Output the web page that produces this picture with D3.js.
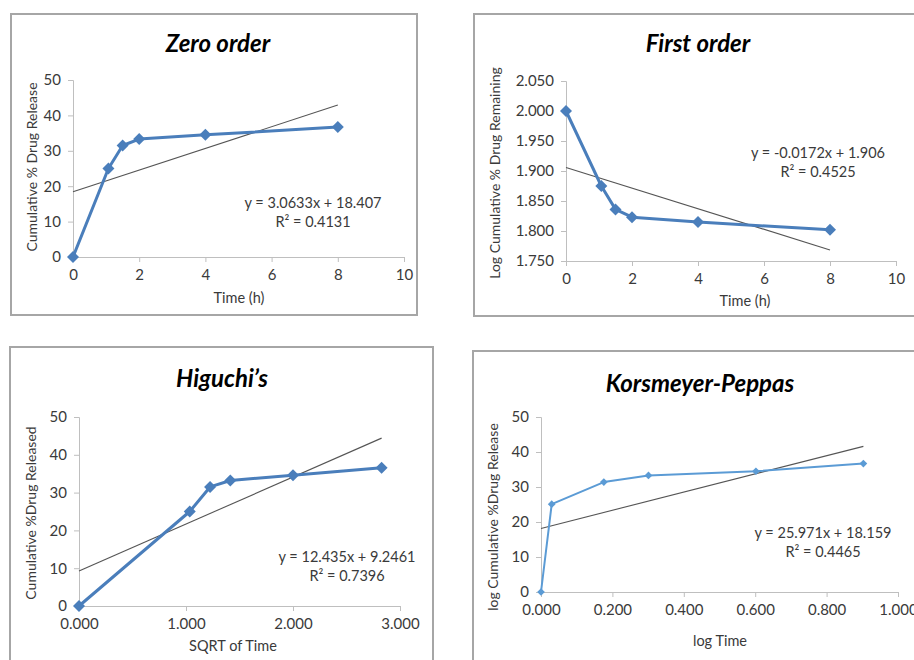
<!DOCTYPE html>
<html>
<head>
<meta charset="utf-8">
<script src="https://cdn.jsdelivr.net/npm/d3@7/dist/d3.min.js"></script>
<style>
  body { margin: 0; background: #fff; }
  svg { display: block; font-family: Lato, "Open Sans", sans-serif; }
</style>
</head>
<body>
<div id="chart"></div>
<script>
// Zero order: time (h) vs cumulative % drug release
const zeroTime = [0, 1.07, 1.5, 2, 4, 8]
const zeroRelease = [0, 25.0, 31.5, 33.3, 34.5, 36.7]

// First order: time (h) vs log cumulative % drug remaining
const firstTime = [0, 1.07, 1.5, 2, 4, 8]
const firstLogRemaining = [2.000, 1.875, 1.836, 1.823, 1.815, 1.802]

// Higuchi: sqrt of time vs cumulative % drug released
const higuchiSqrtTime = [0, 1.035, 1.225, 1.414, 2.0, 2.828]
const higuchiRelease = [0, 25.0, 31.5, 33.2, 34.6, 36.6]

// Korsmeyer-Peppas: log time vs cumulative % drug release
const kpLogTime = [0, 0.030, 0.176, 0.301, 0.602, 0.903]
const kpRelease = [0, 25.1, 31.4, 33.3, 34.5, 36.7]

// linear trendlines [slope, intercept, R²]
const zeroFit = [3.0633, 18.407, 0.4131]
const firstFit = [-0.0172, 1.906, 0.4525]
const higuchiFit = [12.435, 9.2461, 0.7396]
const kpFit = [25.971, 18.159, 0.4465]

// tick labels
const timeTicks = [0, 2, 4, 6, 8, 10]
const releaseTicks = [0, 10, 20, 30, 40, 50]
const logRemainingTicks = [1.75, 1.80, 1.85, 1.90, 1.95, 2.00, 2.05]
const sqrtTicks = [0, 1, 2, 3]
const logTimeTicks = [0, 0.2, 0.4, 0.6, 0.8, 1.0]

const W = 914, H = 660
const svg = d3.select('#chart').append('svg').attr('width', W).attr('height', H)
const TXT = '#3a3a3a'

function fmtEq(m, b) {
  const sign = b < 0 ? '- ' : '+ '
  return `y = ${m}x ${sign}${Math.abs(b)}`
}

function panel(cfg) {
  const { frame, xr, yr, xDomain, yDomain, xTicks, yTicks, xFmt, yFmt, xs, ys, fit } = cfg
  svg.append('rect')
    .attr('x', frame[0]).attr('y', frame[1]).attr('width', frame[2]).attr('height', frame[3])
    .attr('fill', '#fff').attr('stroke', '#a6a6a6').attr('stroke-width', 2)

  const x = d3.scaleLinear().domain(xDomain).range(xr)
  const y = d3.scaleLinear().domain(yDomain).range(yr)

  const gx = svg.append('g').attr('transform', `translate(0,${yr[0]})`)
    .call(d3.axisBottom(x).tickValues(xTicks).tickFormat(xFmt).tickSize(5).tickSizeOuter(5).tickPadding(7))
  const gy = svg.append('g').attr('transform', `translate(${xr[0]},0)`)
    .call(d3.axisLeft(y).tickValues(yTicks).tickFormat(yFmt).tickSize(5).tickSizeOuter(5).tickPadding(7))
  ;[gx, gy].forEach(g => {
    g.selectAll('path, line').attr('stroke', '#bfbfbf')
    g.selectAll('text').style('font-size', '15px').attr('fill', TXT).style('font-family', 'Lato, sans-serif')
  })

  // title
  svg.append('text').attr('x', cfg.titleX).attr('y', cfg.titleY).attr('text-anchor', 'middle')
    .style('font-size', '24px').style('font-weight', '700').style('font-style', 'italic')
    .attr('fill', '#000').text(cfg.title)

  // axis titles
  svg.append('text').attr('x', cfg.xLabelX).attr('y', cfg.xLabelY).attr('text-anchor', 'middle')
    .style('font-size', '14.5px').attr('fill', TXT).text(cfg.xLabel)
  svg.append('text')
    .attr('transform', `translate(${cfg.yLabelX},${cfg.yLabelY}) rotate(-90)`)
    .attr('text-anchor', 'middle').attr('dy', '0.35em')
    .style('font-size', '14px').attr('fill', TXT).text(cfg.yLabel)

  // trendline
  const [m, b, r2] = fit
  const x0 = d3.min(xs), x1 = d3.max(xs)
  svg.append('line')
    .attr('x1', x(x0)).attr('y1', y(m * x0 + b)).attr('x2', x(x1)).attr('y2', y(m * x1 + b))
    .attr('stroke', '#555').attr('stroke-width', 1.1)

  // data line + markers
  const pts = xs.map((v, i) => [v, ys[i]])
  svg.append('path').datum(pts)
    .attr('d', d3.line().x(d => x(d[0])).y(d => y(d[1])))
    .attr('fill', 'none').attr('stroke', cfg.color).attr('stroke-width', cfg.lineW)
    .attr('stroke-linejoin', 'round')
  svg.selectAll(null).data(pts).join('path')
    .attr('d', d3.symbol(d3.symbolSquare, cfg.markerSize))
    .attr('transform', d => `translate(${x(d[0])},${y(d[1])}) rotate(45)`)
    .attr('fill', cfg.color)

  // equation
  const eq = svg.append('text').attr('text-anchor', 'middle')
    .style('font-size', '14.5px').attr('fill', TXT)
  eq.append('tspan').attr('x', cfg.eqX).attr('y', cfg.eqY).text(fmtEq(m, b))
  eq.append('tspan').attr('x', cfg.eqX).attr('y', cfg.eqY + 19).text(`R² = ${r2}`)
}

const f0 = d3.format('d'), f3 = d3.format('.3f')

panel({
  frame: [11, 14, 406, 301], xr: [73, 404], yr: [257, 80],
  xDomain: [0, 10], yDomain: [0, 50], xTicks: timeTicks, yTicks: releaseTicks, xFmt: f0, yFmt: f0,
  xs: zeroTime, ys: zeroRelease, fit: zeroFit,
  title: 'Zero order', titleX: 218, titleY: 52,
  xLabel: 'Time (h)', xLabelX: 239, xLabelY: 303,
  yLabel: 'Cumulative % Drug Release', yLabelX: 32, yLabelY: 167,
  eqX: 313, eqY: 208, color: '#4a7ebb', lineW: 3, markerSize: 72
})

panel({
  frame: [474, 14, 460, 302], xr: [566, 896], yr: [261, 81],
  xDomain: [0, 10], yDomain: [1.75, 2.05], xTicks: timeTicks, yTicks: logRemainingTicks, xFmt: f0, yFmt: f3,
  xs: firstTime, ys: firstLogRemaining, fit: firstFit,
  title: 'First order', titleX: 698, titleY: 52,
  xLabel: 'Time (h)', xLabelX: 745, xLabelY: 306,
  yLabel: 'Log Cumulative % Drug Remaining', yLabelX: 495, yLabelY: 173,
  eqX: 818, eqY: 158, color: '#4a7ebb', lineW: 3, markerSize: 72
})

panel({
  frame: [10, 347, 423, 340], xr: [79, 400], yr: [606, 417],
  xDomain: [0, 3], yDomain: [0, 50], xTicks: sqrtTicks, yTicks: releaseTicks, xFmt: f3, yFmt: f0,
  xs: higuchiSqrtTime, ys: higuchiRelease, fit: higuchiFit,
  title: 'Higuchi\u2019s', titleX: 222, titleY: 387,
  xLabel: 'SQRT of Time', xLabelX: 233, xLabelY: 651,
  yLabel: 'Cumulative %Drug Released', yLabelX: 31, yLabelY: 513,
  eqX: 347, eqY: 562, color: '#4a7ebb', lineW: 3, markerSize: 72
})

panel({
  frame: [473, 351, 460, 340], xr: [541, 898], yr: [592, 417],
  xDomain: [0, 1], yDomain: [0, 50], xTicks: logTimeTicks, yTicks: releaseTicks, xFmt: f3, yFmt: f0,
  xs: kpLogTime, ys: kpRelease, fit: kpFit,
  title: 'Korsmeyer-Peppas', titleX: 700, titleY: 392,
  xLabel: 'log Time', xLabelX: 720, xLabelY: 646,
  yLabel: 'log Cumulative %Drug Release', yLabelX: 493, yLabelY: 517,
  eqX: 823, eqY: 538, color: '#5b9bd5', lineW: 2, markerSize: 30
})
</script>
</body>
</html>
